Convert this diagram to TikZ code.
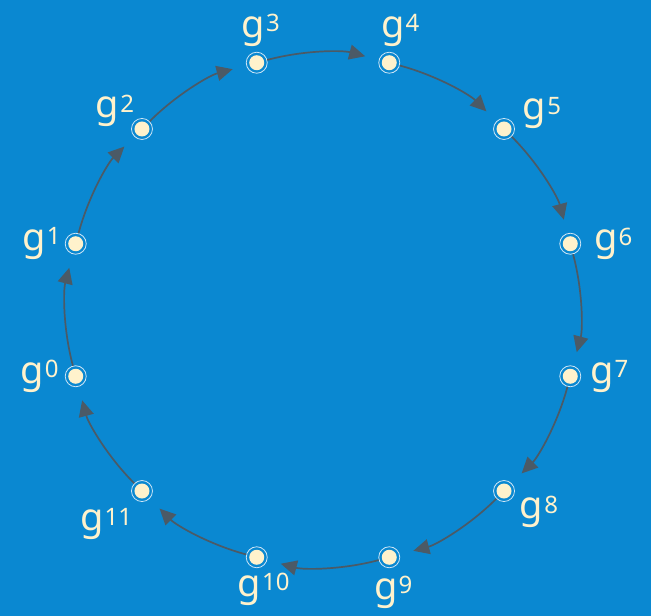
\documentclass[tikz,border=0pt]{standalone}
\usepackage{fontspec}
\setmainfont{Noto Sans}
\newfontfamily\lblfont{Noto Sans}
\usepackage{tikz}
\usetikzlibrary{arrows.meta,positioning}

\definecolor{bgblue}{HTML}{0A88D1}
\definecolor{cream}{HTML}{FFF2CC}
\definecolor{ringcol}{HTML}{CFE6F6}
\definecolor{arrowcol}{HTML}{4B5A66}

\newcommand{\gpow}[1]{g\kern1pt\raisebox{5.5pt}{\fontsize{24pt}{24pt}\selectfont #1}}

\begin{document}
\begin{tikzpicture}[
    dot/.style={circle, draw=ringcol, line width=0.8pt, minimum size=21pt, inner sep=0pt,
        path picture={\fill[cream] (path picture bounding box.center) circle (7.5pt);}},
    lbl/.style={inner sep=0pt, text=cream, font=\lblfont\fontsize{38pt}{38pt}\selectfont},
    arrow/.style={-{Triangle[length=16pt, width=15pt]}, line width=1.7pt, draw=arrowcol,
        bend left=15, looseness=0.87, shorten >=14pt}
]
\fill[bgblue] (-323pt,-306pt) rectangle (328pt,310pt);
\useasboundingbox (-323pt,-306pt) rectangle (328pt,310pt);

\node[dot] (p0) at (195:256pt) {};
\node[dot] (p1) at (165:256pt) {};
\node[dot] (p2) at (135:256pt) {};
\node[dot] (p3) at (105:256pt) {};
\node[dot] (p4) at (75:256pt) {};
\node[dot] (p5) at (45:256pt) {};
\node[dot] (p6) at (15:256pt) {};
\node[dot] (p7) at (-15:256pt) {};
\node[dot] (p8) at (-45:256pt) {};
\node[dot] (p9) at (-75:256pt) {};
\node[dot] (p10) at (-105:256pt) {};
\node[dot] (p11) at (-135:256pt) {};

\node[lbl, left=6pt of p0] (l0) {\gpow{0}};
\node[lbl, left=4pt of p1] (l1) {\gpow{1}};
\node[lbl, above left=-6pt and 0pt of p2] (l2) {\gpow{2}};
\node[lbl, above=5pt of p3, xshift=4pt] (l3) {\gpow{3}};
\node[lbl, above=5pt of p4, xshift=11pt] (l4) {\gpow{4}};
\node[lbl, above right=-8pt and 11pt of p5] (l5) {\gpow{5}};
\node[lbl, right=13pt of p6] (l6) {\gpow{6}};
\node[lbl, right=9pt of p7] (l7) {\gpow{7}};
\node[lbl, below right=-3pt and 8pt of p8] (l8) {\gpow{8}};
\node[lbl, below=8pt of p9, xshift=4pt] (l9) {\gpow{9}};
\node[lbl, below=5pt of p10, xshift=7pt] (l10) {\gpow{10}};
\node[lbl, below left=9pt and 2pt of p11] (l11) {\gpow{11}};

\draw[arrow] (p0) to (p1);
\draw[arrow] (p1) to (p2);
\draw[arrow] (p2) to (p3);
\draw[arrow] (p3) to (p4);
\draw[arrow] (p4) to (p5);
\draw[arrow] (p5) to (p6);
\draw[arrow] (p6) to (p7);
\draw[arrow] (p7) to (p8);
\draw[arrow] (p8) to (p9);
\draw[arrow] (p9) to (p10);
\draw[arrow] (p10) to (p11);
\draw[arrow] (p11) to (p0);
\end{tikzpicture}
\end{document}
